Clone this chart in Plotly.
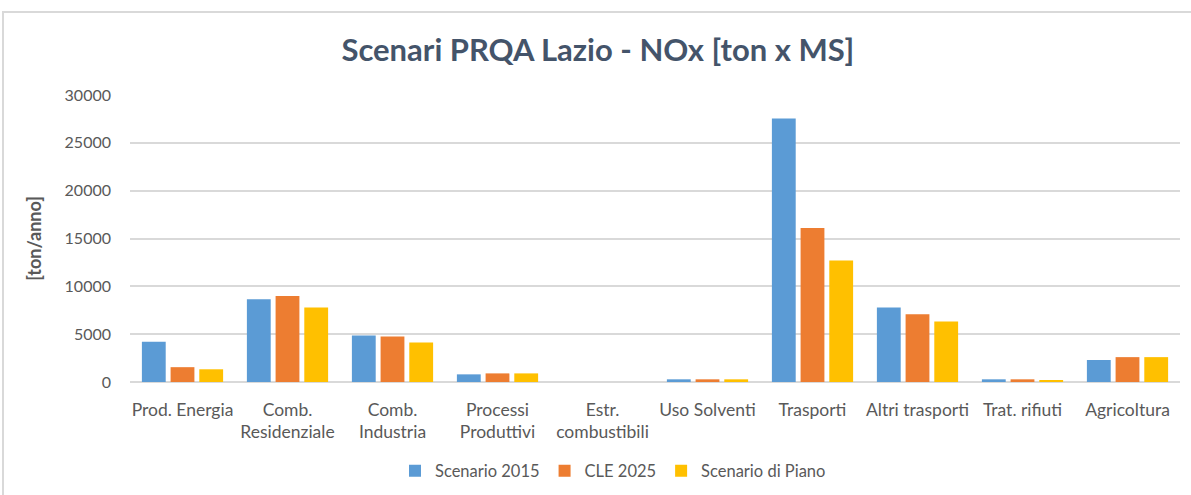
import plotly.graph_objects as go

# Categories of emission sources (two-line labels where the axis wraps them)
categories = [
    "Prod. Energia",
    "Comb.<br>Residenziale",
    "Comb.<br>Industria",
    "Processi<br>Produttivi",
    "Estr.<br>combustibili",
    "Uso Solventi",
    "Trasporti",
    "Altri trasporti",
    "Trat. rifiuti",
    "Agricoltura",
]

# NOx emissions [ton/anno] per scenario
scenario_2015 = [4200, 8650, 4850, 800, 0, 280, 27550, 7800, 280, 2300]
cle_2025 = [1550, 9000, 4750, 900, 0, 280, 16100, 7080, 280, 2600]
scenario_piano = [1330, 7800, 4120, 900, 0, 280, 12700, 6320, 180, 2600]

series_names = ["Scenario 2015", "CLE 2025", "Scenario di Piano"]
series_colors = ["#5b9bd5", "#ed7d31", "#ffc000"]

y_ticks = [0, 5000, 10000, 15000, 20000, 25000, 30000]

FONT = "Lato, 'Open Sans', sans-serif"
TEXT = "#595959"

fig = go.Figure()
for name, vals, col in zip(series_names, [scenario_2015, cle_2025, scenario_piano],
                           series_colors):
    fig.add_trace(go.Bar(
        x=categories, y=vals, name=name,
        marker=dict(color=col, line=dict(width=0)),
    ))

fig.update_layout(
    width=1191, height=495,
    paper_bgcolor="white", plot_bgcolor="white",
    margin=dict(l=130, r=11, t=95, b=113, autoexpand=False),
    barmode="group", bargap=0.18, bargroupgap=0.17,
    font=dict(family=FONT, size=17, color=TEXT),
    title=dict(
        text="<b>Scenari PRQA Lazio - NOx [ton x MS]</b>",
        x=0.502, xref="container", xanchor="center",
        y=1 - 50 / 495, yref="container", yanchor="middle",
        font=dict(family=FONT, size=31, color="#44546a"),
    ),
    legend=dict(
        orientation="h", x=0.46, xanchor="center", y=-0.31, yanchor="middle",
        font=dict(size=16.5, color=TEXT), itemwidth=30, traceorder="normal",
    ),
    showlegend=True,
)

fig.update_xaxes(
    showgrid=False, showline=False, ticks="", ticklabelstandoff=15,
    automargin=False, tickfont=dict(size=17.5, color=TEXT),
)
fig.update_yaxes(
    range=[0, 30000], tickvals=y_ticks, ticktext=[str(v) for v in y_ticks],
    showgrid=True, gridcolor="#d9d9d9", gridwidth=1.5,
    zeroline=True, zerolinecolor="#d9d9d9", zerolinewidth=1.5,
    ticks="", ticklabelstandoff=18, tickfont=dict(size=16, color=TEXT),
    automargin=False,
    title=dict(text="<b>[ton/anno]</b>", font=dict(size=18, color=TEXT), standoff=18),
)

# Chart frame
fig.add_shape(
    type="rect", xref="paper", yref="paper",
    x0=(3 - 130) / 1050, x1=1.2, y0=-1.0, y1=(381.7 - 12) / 286.7,
    line=dict(color="#d9d9d9", width=2), fillcolor="rgba(0,0,0,0)", layer="below",
)

fig.write_html("out.html")
